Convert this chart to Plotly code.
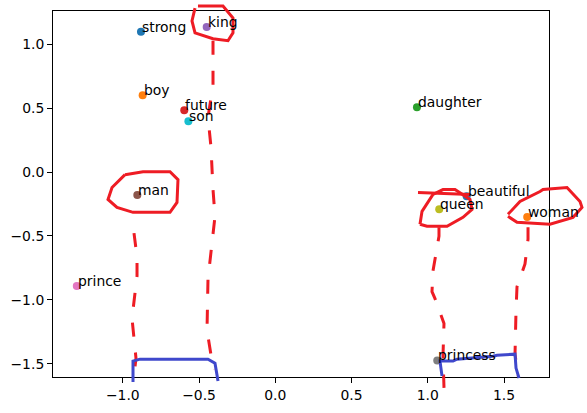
import plotly.graph_objects as go

# word embedding 2D projection
words = ["beautiful", "boy", "daughter", "future", "king", "man",
         "prince", "princess", "queen", "son", "strong", "woman"]
xs = [1.255, -0.87, 0.929, -0.597, -0.45, -0.905,
      -1.302, 1.062, 1.075, -0.57, -0.881, 1.652]
ys = [-0.189, 0.60, 0.506, 0.483, 1.134, -0.18,
      -0.892, -1.473, -0.292, 0.397, 1.096, -0.352]

x_ticks = [-1.0, -0.5, 0.0, 0.5, 1.0, 1.5]
y_ticks = [-1.5, -1.0, -0.5, 0.0, 0.5, 1.0]

tab10 = ["#1f77b4", "#ff7f0e", "#2ca02c", "#d62728", "#9467bd",
         "#8c564b", "#e377c2", "#7f7f7f", "#bcbd22", "#17becf"]

W, H = 587, 413
L, R, T, B = 53, 549, 10, 379

fig = go.Figure()
for i, (w, x, y) in enumerate(zip(words, xs, ys)):
    fig.add_trace(go.Scatter(
        x=[x], y=[y], mode="markers", name=w,
        marker=dict(size=8, color=tab10[i % 10]),
        cliponaxis=False,
    ))
    fig.add_annotation(x=x, y=y, text=w, showarrow=False,
                       xanchor="left", yanchor="bottom",
                       xshift=-1, yshift=-5,
                       font=dict(family="DejaVu Sans", size=13.9, color="black"))


# hand drawn marks over the picture, given in screen pixels
def pen(points, closed=False):
    parts = []
    for k, (px, py) in enumerate(points):
        fx = (px - L) / (R - L)
        fy = (B - py) / (B - T)
        parts.append(("M" if k == 0 else "L") + f"{fx:.4f},{fy:.4f}")
    return " ".join(parts) + (" Z" if closed else "")


RED = "#ee1c24"
BLUE = "#3f48cc"

loops = [
    [(198, 5), (223, 5), (233, 17), (233, 32), (228, 40), (213, 38),
     (195, 32), (192, 20), (195, 7)],
    [(125, 175), (143, 172), (170, 172), (178, 180), (177, 203), (170, 213),
     (133, 213), (117, 208), (108, 200), (112, 188), (125, 175)],
    [(420, 225), (422, 212), (433, 195), (443, 190), (455, 190), (470, 200),
     (472, 210), (463, 218), (447, 227), (427, 227), (420, 225)],
    [(508, 215), (520, 202), (540, 192), (543, 190), (567, 188), (580, 202),
     (582, 208), (573, 218), (550, 225), (517, 223), (508, 217)],
]
strokes = [
    [(418, 193), (470, 195)],
]
dashes = [
    [(213, 40), (213, 85), (208, 117), (211, 147), (213, 190), (215, 217),
     (208, 280), (207, 332), (212, 363), (215, 371)],
    [(134, 234), (137, 258), (137, 277), (132, 320), (136, 360), (134, 378)],
    [(439, 228), (439, 237), (433, 272), (432, 293), (435, 300), (444, 325),
     (443, 357), (444, 390)],
    [(528, 228), (528, 240), (525, 265), (517, 288), (516, 312), (515, 356),
     (518, 378)],
]
brackets = [
    [(133, 384), (133, 363), (140, 361), (208, 361), (215, 365), (218, 383)],
    [(442, 378), (440, 363), (453, 363), (457, 361), (493, 358), (497, 357),
     (515, 356), (516, 370), (519, 380)],
]

shapes = []
for pts in loops + strokes:
    shapes.append(dict(type="path", xref="paper", yref="paper", path=pen(pts),
                       line=dict(color=RED, width=3)))
for pts in dashes:
    shapes.append(dict(type="path", xref="paper", yref="paper", path=pen(pts),
                       line=dict(color=RED, width=3, dash="14px,16px")))
for pts in brackets:
    shapes.append(dict(type="path", xref="paper", yref="paper", path=pen(pts),
                       line=dict(color=BLUE, width=3)))

axis_style = dict(
    showgrid=False, zeroline=False, showline=True, mirror=True,
    linecolor="black", linewidth=1, ticks="outside", ticklen=5,
    tickcolor="black", tickwidth=1, tickformat=".1f",
    tickfont=dict(family="DejaVu Sans", size=13.9, color="black"),
)

fig.update_layout(
    width=W, height=H,
    margin=dict(l=L, r=W - R, t=T, b=H - B),
    paper_bgcolor="white", plot_bgcolor="white",
    showlegend=False,
    shapes=shapes,
    xaxis=dict(range=[-1.458, 1.795], tickvals=x_ticks, **axis_style),
    yaxis=dict(range=[-1.603, 1.259], tickvals=y_ticks, **axis_style),
)

fig.write_html("out.html", config={"displayModeBar": False},
               post_script="document.body.style.margin='0';")
